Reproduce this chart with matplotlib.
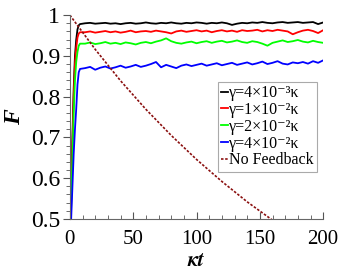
import matplotlib
matplotlib.use("Agg")
import matplotlib.pyplot as plt
from matplotlib.ticker import MultipleLocator

plt.rcParams['font.family'] = ['Liberation Serif', 'DejaVu Serif']
plt.rcParams['mathtext.fontset'] = 'stix'

# time grid (kappa t)
t = [0, 1, 2, 3, 4, 5, 6, 7, 8] + list(range(12, 201, 4))

f_black = [0.40, 0.55, 0.70, 0.82, 0.90, 0.94, 0.965, 0.975, 0.978,
           0.980, 0.981, 0.979, 0.980, 0.981, 0.979, 0.980, 0.978, 0.980, 0.981,
           0.979, 0.980, 0.982, 0.980, 0.979, 0.981, 0.980, 0.982, 0.980, 0.979,
           0.981, 0.980, 0.982, 0.981, 0.979, 0.981, 0.980, 0.982, 0.980, 0.976,
           0.979, 0.981, 0.980, 0.982, 0.981, 0.983, 0.981, 0.980, 0.982, 0.983,
           0.981, 0.982, 0.983, 0.981, 0.982, 0.983, 0.978, 0.982]
f_red = [0.40, 0.54, 0.68, 0.80, 0.88, 0.92, 0.945, 0.955, 0.958,
         0.958, 0.960, 0.957, 0.959, 0.961, 0.958, 0.960, 0.957, 0.959, 0.962,
         0.958, 0.960, 0.961, 0.959, 0.962, 0.960, 0.958, 0.955, 0.960, 0.962,
         0.959, 0.961, 0.963, 0.960, 0.962, 0.958, 0.961, 0.963, 0.960, 0.962,
         0.959, 0.963, 0.961, 0.962, 0.964, 0.960, 0.963, 0.961, 0.964, 0.962,
         0.960, 0.953, 0.958, 0.962, 0.964, 0.961, 0.956, 0.963]
f_green = [0.40, 0.53, 0.65, 0.76, 0.84, 0.885, 0.91, 0.925, 0.930,
           0.930, 0.933, 0.929, 0.931, 0.934, 0.930, 0.932, 0.929, 0.933, 0.931,
           0.928, 0.932, 0.934, 0.931, 0.935, 0.938, 0.943, 0.936, 0.932, 0.930,
           0.933, 0.935, 0.931, 0.934, 0.936, 0.932, 0.935, 0.937, 0.933, 0.935,
           0.938, 0.934, 0.932, 0.936, 0.934, 0.930, 0.925, 0.932, 0.935, 0.938,
           0.934, 0.936, 0.939, 0.935, 0.933, 0.937, 0.934, 0.932]
f_blue = [0.40, 0.50, 0.58, 0.66, 0.72, 0.77, 0.83, 0.86, 0.868,
          0.870, 0.873, 0.866, 0.871, 0.874, 0.869, 0.872, 0.876, 0.871, 0.874,
          0.878, 0.873, 0.876, 0.880, 0.885, 0.872, 0.878, 0.874, 0.870, 0.876,
          0.879, 0.875, 0.878, 0.881, 0.876, 0.879, 0.882, 0.877, 0.880, 0.883,
          0.878, 0.881, 0.884, 0.879, 0.882, 0.886, 0.880, 0.883, 0.887, 0.881,
          0.879, 0.884, 0.882, 0.885, 0.881, 0.887, 0.883, 0.889]

t_nofb = [0, 20, 40, 60, 80, 100, 120, 140, 160, 170]
f_nofb = [1.0, 0.916, 0.839, 0.769, 0.705, 0.646, 0.592, 0.542, 0.497, 0.476]

labels = [u"γ=4×10⁻³κ",
          u"γ=1×10⁻²κ",
          u"γ=2×10⁻²κ",
          u"γ=4×10⁻²κ",
          "No Feedback"]

fig = plt.figure(figsize=(3.46, 2.80), dpi=100)
ax = fig.add_axes([0.202, 0.218, 0.732, 0.728])

ax.plot(t, f_black, color='black', lw=1.3, label=labels[0])
ax.plot(t, f_red, color='#ff0000', lw=1.3, label=labels[1])
ax.plot(t, f_green, color='#00ff00', lw=1.3, label=labels[2])
ax.plot(t, f_blue, color='#0000ff', lw=1.3, label=labels[3])
ax.plot(t_nofb, f_nofb, color='#8b1010', lw=1.2, ls=(0, (1.5, 1)), label=labels[4])

ax.set_xlim(0, 200)
ax.set_ylim(0.5, 1.0)
ax.xaxis.set_major_locator(MultipleLocator(50))
ax.xaxis.set_minor_locator(MultipleLocator(10))
ax.yaxis.set_major_locator(MultipleLocator(0.1))
ax.yaxis.set_minor_locator(MultipleLocator(0.02))
ax.set_yticks([0.5, 0.6, 0.7, 0.8, 0.9, 1.0])
ax.set_yticklabels(["0.5", "0.6", "0.7", "0.8", "0.9", "1"])

for s in ['top', 'right']:
    ax.spines[s].set_visible(False)
for s in ['left', 'bottom']:
    ax.spines[s].set_color('#666666')

ax.tick_params(which='both', colors='#555555', labelcolor='black')
ax.tick_params(axis='x', which='both', direction='in')
ax.tick_params(axis='y', which='both', direction='out')
ax.tick_params(axis='x', which='major', length=5, labelsize=15, pad=8)
ax.tick_params(axis='y', which='major', length=5, labelsize=17, pad=2)
ax.tick_params(which='minor', length=3)

ax.set_xlabel(r"$\boldsymbol{\kappa t}$", fontsize=15, labelpad=2)
ax.set_ylabel("F", fontsize=17, fontweight='bold', style='italic', labelpad=4)

leg = ax.legend(loc='upper left', bbox_to_anchor=(0.585, 0.672), borderaxespad=0,
                fontsize=11.5, handlelength=0.4, handletextpad=0.1,
                labelspacing=0.05, borderpad=0.2, fancybox=False,
                framealpha=1, edgecolor='#aaaaaa')
leg.get_frame().set_linewidth(0.8)

fig.savefig("out.png", dpi=100)
plt.close(fig)
